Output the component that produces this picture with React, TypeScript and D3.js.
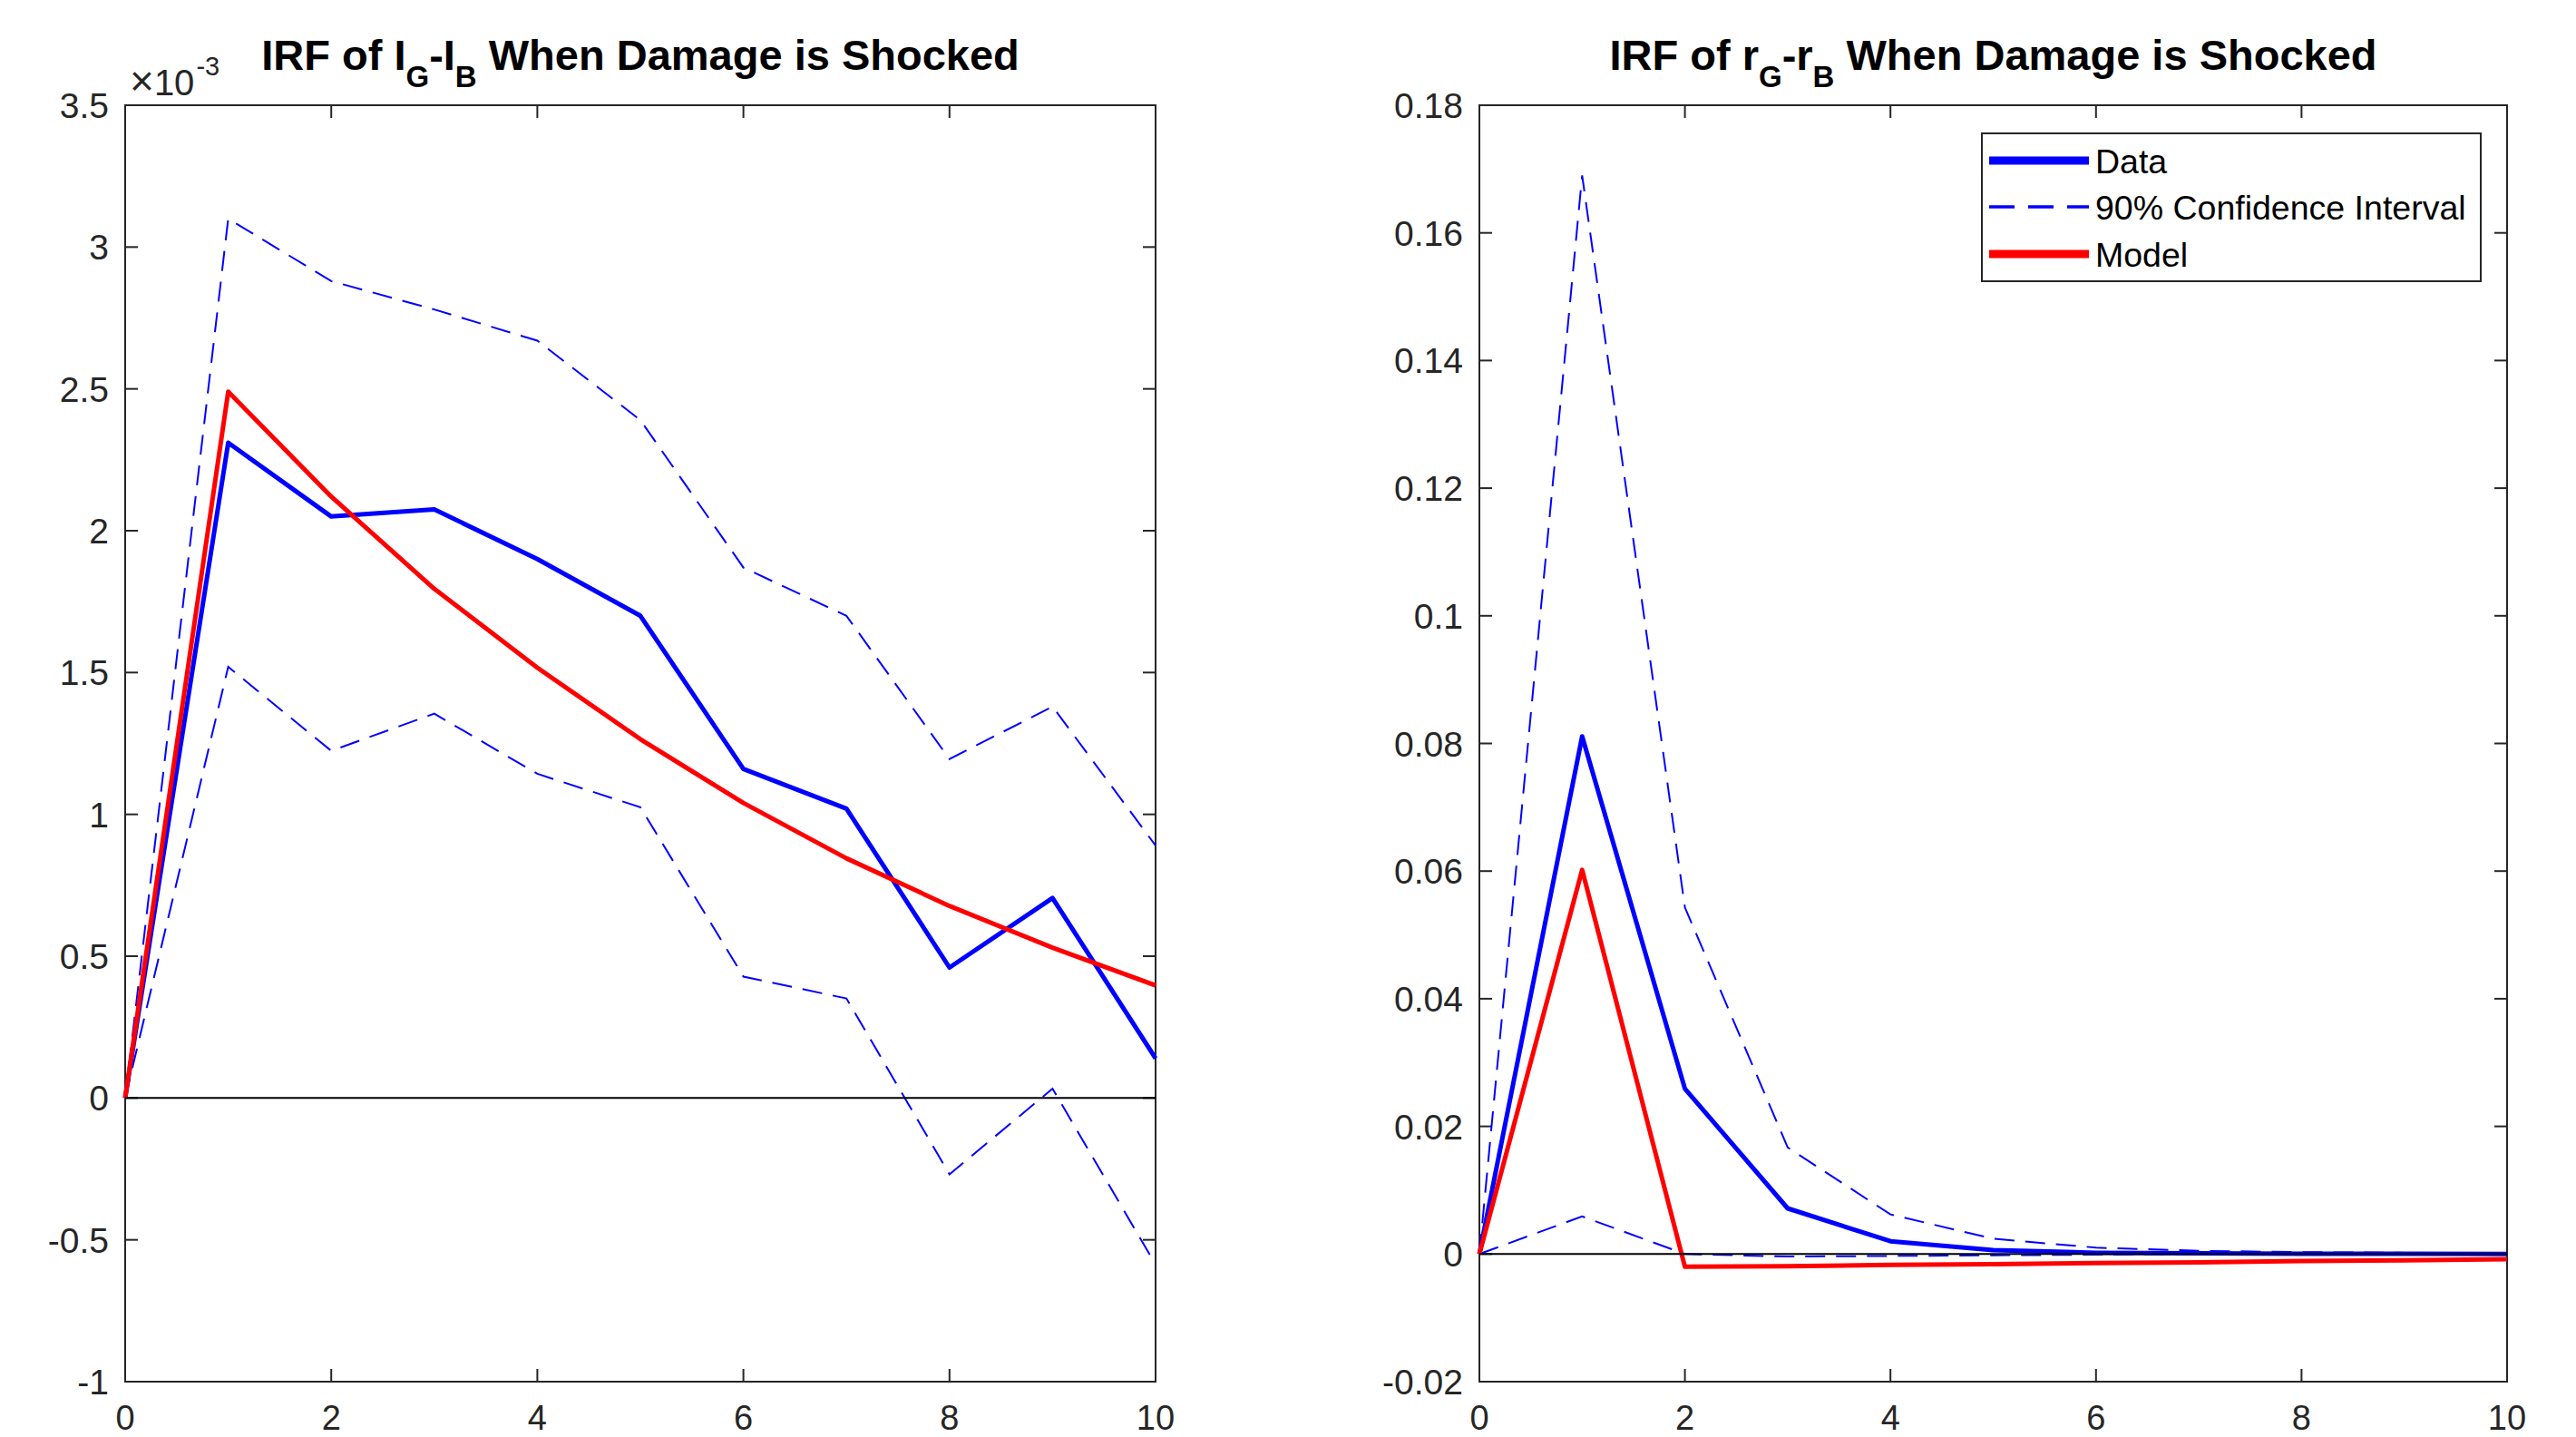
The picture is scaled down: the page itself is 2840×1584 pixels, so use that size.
import React, { useEffect, useRef } from 'react';
import * as d3 from 'd3';

// horizon (quarters after the shock)
const horizon = [0, 1, 2, 3, 4, 5, 6, 7, 8, 9, 10];
const xTicks = [0, 2, 4, 6, 8, 10];

// left panel, values in units of 1e-3
const dataIB = [0, 2.31, 2.05, 2.075, 1.9, 1.7, 1.16, 1.02, 0.46, 0.705, 0.14];
const upperIB = [0, 3.1, 2.88, 2.78, 2.67, 2.39, 1.87, 1.7, 1.195, 1.38, 0.89];
const lowerIB = [0, 1.52, 1.224, 1.355, 1.143, 1.025, 0.428, 0.351, -0.269, 0.033, -0.587];
const modelIB = [0, 2.49, 2.12, 1.795, 1.517, 1.265, 1.04, 0.845, 0.677, 0.53, 0.397];
const yTicksIB = [-1, -0.5, 0, 0.5, 1, 1.5, 2, 2.5, 3, 3.5];

// right panel
const dataRB = [0, 0.0811, 0.0259, 0.00715, 0.002, 0.0006, 0.0002, 0.0001, 0.00005, 0.00003, 0.00001];
const upperRB = [0, 0.169, 0.0543, 0.0167, 0.0062, 0.0024, 0.001, 0.0005, 0.0003, 0.0002, 0.0001];
const lowerRB = [0, 0.0059, 0, -0.0004, -0.0003, -0.0002, -0.0001, -0.00005, 0, 0, 0];
const modelRB = [0, 0.0602, -0.002, -0.0019, -0.0017, -0.0016, -0.0014, -0.0013, -0.0011, -0.001, -0.0008];
const yTicksRB = [-0.02, 0, 0.02, 0.04, 0.06, 0.08, 0.1, 0.12, 0.14, 0.16, 0.18];

const legendLabels = ['Data', '90% Confidence Interval', 'Model'];

const FONT = '"Liberation Sans", Arial, Helvetica, sans-serif';
const AX = '#262626';

const App = () => {
  const ref = useRef(null);

  useEffect(() => {
    const width = 2840;
    const height = 1584;
    const svg = d3.select(ref.current).attr('width', width).attr('height', height);
    svg.selectAll('*').remove();

    const top = 116;
    const bottom = 1523;

    const panels = [
      {
        left: 138, right: 1274, domain: [-1, 3.5], ticks: yTicksIB,
        data: dataIB, upper: upperIB, lower: lowerIB, model: modelIB,
        v: 'I', exponent: true,
      },
      {
        left: 1631, right: 2764, domain: [-0.02, 0.18], ticks: yTicksRB,
        data: dataRB, upper: upperRB, lower: lowerRB, model: modelRB,
        v: 'r', exponent: false,
      },
    ];

    panels.forEach((p, idx) => {
      const x = d3.scaleLinear().domain([0, 10]).range([p.left, p.right]);
      const y = d3.scaleLinear().domain(p.domain).range([bottom, top]);
      const g = svg.append('g');

      const line = d3.line().x((d, i) => x(horizon[i])).y(d => y(d));

      // box
      g.append('rect')
        .attr('x', p.left).attr('y', top)
        .attr('width', p.right - p.left).attr('height', bottom - top)
        .attr('fill', 'none').attr('stroke', AX).attr('stroke-width', 2);

      // ticks (inward, all four sides)
      const tl = 14;
      xTicks.forEach(t => {
        g.append('line').attr('x1', x(t)).attr('x2', x(t)).attr('y1', bottom).attr('y2', bottom - tl)
          .attr('stroke', AX).attr('stroke-width', 2);
        g.append('line').attr('x1', x(t)).attr('x2', x(t)).attr('y1', top).attr('y2', top + tl)
          .attr('stroke', AX).attr('stroke-width', 2);
        g.append('text').attr('x', x(t)).attr('y', 1576)
          .attr('text-anchor', 'middle').attr('font-family', FONT).attr('font-size', 38)
          .attr('fill', AX).text(t);
      });
      p.ticks.forEach(t => {
        g.append('line').attr('x1', p.left).attr('x2', p.left + tl).attr('y1', y(t)).attr('y2', y(t))
          .attr('stroke', AX).attr('stroke-width', 2);
        g.append('line').attr('x1', p.right).attr('x2', p.right - tl).attr('y1', y(t)).attr('y2', y(t))
          .attr('stroke', AX).attr('stroke-width', 2);
        g.append('text').attr('x', p.left - 18).attr('y', y(t) + 14)
          .attr('text-anchor', 'end').attr('font-family', FONT).attr('font-size', 39)
          .attr('fill', AX).text(String(+t.toFixed(4)));
      });

      // series
      g.append('path').datum(p.data).attr('d', line).attr('fill', 'none')
        .attr('stroke', '#0000ff').attr('stroke-width', 5).attr('stroke-linejoin', 'round');
      [p.upper, p.lower].forEach(s => {
        g.append('path').datum(s).attr('d', line).attr('fill', 'none')
          .attr('stroke', '#0000ff').attr('stroke-width', 2).attr('stroke-dasharray', '22 12');
      });
      g.append('path').datum(p.model).attr('d', line).attr('fill', 'none')
        .attr('stroke', '#ff0000').attr('stroke-width', 5).attr('stroke-linejoin', 'round');
      g.append('line').attr('x1', x(0)).attr('x2', x(10)).attr('y1', y(0)).attr('y2', y(0))
        .attr('stroke', '#000').attr('stroke-width', 2);

      // title
      const title = g.append('text').attr('x', (p.left + p.right) / 2).attr('y', 77)
        .attr('text-anchor', 'middle').attr('font-family', FONT).attr('font-size', 47)
        .attr('font-weight', 'bold').attr('fill', '#000');
      title.append('tspan').text(`IRF of ${p.v}`);
      title.append('tspan').attr('dy', 19).attr('font-size', 33).text('G');
      title.append('tspan').attr('dy', -19).text(`-${p.v}`);
      title.append('tspan').attr('dy', 19).attr('font-size', 33).text('B');
      title.append('tspan').attr('dy', -19).text(' When Damage is Shocked');

      if (p.exponent) {
        const ex = g.append('text').attr('x', 143).attr('y', 105)
          .attr('font-family', FONT).attr('font-size', 40).attr('fill', AX);
        ex.append('tspan').attr('font-size', 46).text('\u00d7');
        ex.append('tspan').text('10');
        ex.append('tspan').attr('dy', -22).attr('dx', 2).attr('font-size', 29).text('-3');
      }

      if (idx === 1) {
        const lg = svg.append('g');
        lg.append('rect').attr('x', 2185).attr('y', 147).attr('width', 550).attr('height', 163)
          .attr('fill', '#fff').attr('stroke', AX).attr('stroke-width', 2);
        const rows = [177, 228, 280];
        const styles = [
          { c: '#0000ff', w: 9, dash: null },
          { c: '#0000ff', w: 3.5, dash: '28 15' },
          { c: '#ff0000', w: 9, dash: null },
        ];
        legendLabels.forEach((lab, i) => {
          lg.append('line').attr('x1', 2193).attr('x2', 2303).attr('y1', rows[i]).attr('y2', rows[i])
            .attr('stroke', styles[i].c).attr('stroke-width', styles[i].w)
            .attr('stroke-dasharray', styles[i].dash);
          lg.append('text').attr('x', 2310).attr('y', rows[i] + 14)
            .attr('font-family', FONT).attr('font-size', 37.5).attr('fill', '#000').text(lab);
        });
      }
    });
  }, []);

  return (
    <>
      <style>{'body{margin:0}'}</style>
      <svg ref={ref} style={{ display: 'block', background: '#fff' }}></svg>
    </>
  );
};

export default App;
